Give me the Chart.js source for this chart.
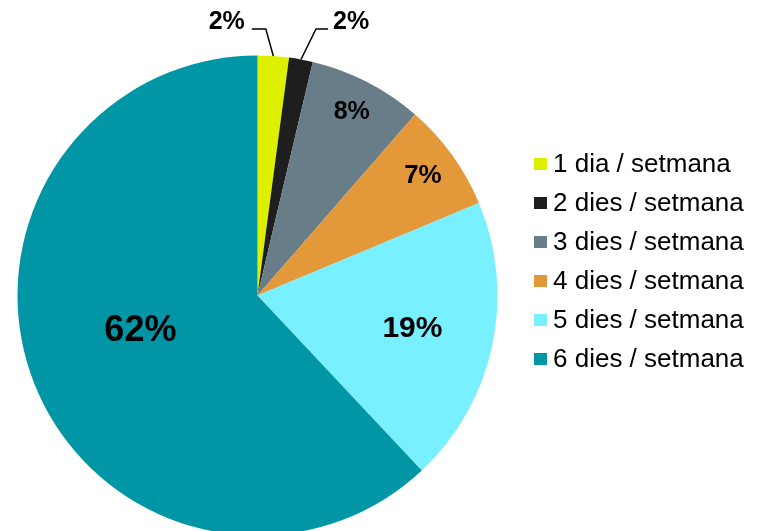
<!DOCTYPE html>
<html>
<head>
<meta charset="utf-8">
<script src="https://cdn.jsdelivr.net/npm/chart.js@4.4.1/dist/chart.umd.min.js"></script>
<style>
  body {
    margin: 0;
    background: #fff;
    width: 760px;
    height: 531px;
    overflow: hidden;
    position: relative;
    font-family: 'Liberation Sans', Arial, sans-serif;
  }
  #wrap { position: absolute; left: 0; top: 0; width: 760px; height: 560px; }
  #legend {
    position: absolute;
    left: 534px;
    top: 144px;
    list-style: none;
    margin: 0;
    padding: 0;
  }
  #legend li {
    height: 39px;
    display: flex;
    align-items: center;
    font-size: 26px;
    color: #000;
    white-space: nowrap;
  }
  #legend .box { display: inline-block; width: 13px; height: 12px; margin-right: 6px; }
</style>
</head>
<body>
<div id="wrap"><canvas id="chart" width="760" height="560"></canvas></div>
<ul id="legend"></ul>

<script>
// days per week - share of answers (%)
const categories = ['1 dia / setmana', '2 dies / setmana', '3 dies / setmana', '4 dies / setmana', '5 dies / setmana', '6 dies / setmana'];
const shares = [2.1, 1.6, 7.7, 7.3, 19.3, 62.0];
const sliceColors = ['#dcf000', '#1e1e1e', '#687d87', '#e3983a', '#78f0ff', '#0096a5'];

// where each percent label goes (inside: fraction of radius, outside: leader line)
const labelPlacement = [
  { out: true, ex: -7.5, ey: -27, side: -1, arm: 14, gap: 7, size: 25 },
  { out: true, ex: 15, ey: -30.5, side: 1, arm: 12, gap: 5, size: 25 },
  { r: 0.86, size: 25 },
  { r: 0.85, size: 26 },
  { r: 0.66, size: 30 },
  { r: 0.51, turn: 4.7, size: 36 },
];

const pctLabels = {
  id: 'pctLabels',
  afterDatasetsDraw(chart) {
    const ctx = chart.ctx;
    const meta = chart.getDatasetMeta(0);
    ctx.save();
    ctx.fillStyle = '#000';
    ctx.strokeStyle = '#000';
    ctx.lineWidth = 1.5;
    meta.data.forEach((arc, i) => {
      const p = labelPlacement[i];
      const { x, y, startAngle, endAngle, outerRadius } =
        arc.getProps(['x', 'y', 'startAngle', 'endAngle', 'outerRadius'], true);
      const mid = (startAngle + endAngle) / 2 + (p.turn || 0) * Math.PI / 180;
      const text = Math.round(shares[i]) + '%';
      ctx.font = 'bold ' + p.size + "px 'Liberation Sans', Arial, sans-serif";

      if (p.out) {
        const ax = x + Math.cos(mid) * outerRadius;
        const ay = y + Math.sin(mid) * outerRadius;
        const ex = ax + p.ex, ey = ay + p.ey;
        const hx = ex + p.side * p.arm;
        ctx.beginPath();
        ctx.moveTo(ax, ay);
        ctx.lineTo(ex, ey);
        ctx.lineTo(hx, ey);
        ctx.stroke();
        ctx.textAlign = p.side < 0 ? 'right' : 'left';
        ctx.textBaseline = 'alphabetic';
        ctx.fillText(text, hx + p.side * p.gap, ey);
      } else {
        ctx.textAlign = 'center';
        ctx.textBaseline = 'middle';
        ctx.fillText(text, x + Math.cos(mid) * outerRadius * p.r, y + Math.sin(mid) * outerRadius * p.r);
      }
    });
    ctx.restore();
  }
};

const htmlLegend = {
  id: 'htmlLegend',
  afterUpdate(chart) {
    const ul = document.getElementById('legend');
    ul.innerHTML = '';
    chart.options.plugins.legend.labels.generateLabels(chart).forEach((item) => {
      const li = document.createElement('li');
      const box = document.createElement('span');
      box.className = 'box';
      box.style.background = item.fillStyle;
      li.appendChild(box);
      li.appendChild(document.createTextNode(item.text));
      ul.appendChild(li);
    });
  }
};

const ctx = document.getElementById('chart').getContext('2d');
new Chart(ctx, {
  type: 'pie',
  data: {
    labels: categories,
    datasets: [{
      data: shares,
      backgroundColor: sliceColors,
      borderWidth: 0,
      hoverOffset: 0,
    }],
  },
  options: {
    responsive: false,
    animation: false,
    layout: {
      padding: { left: 17.5, right: 262.5, top: 55.5, bottom: 24.5 },
    },
    plugins: {
      legend: { display: false },
      tooltip: { enabled: false },
    },
  },
  plugins: [pctLabels, htmlLegend],
});
</script>
</body>
</html>
